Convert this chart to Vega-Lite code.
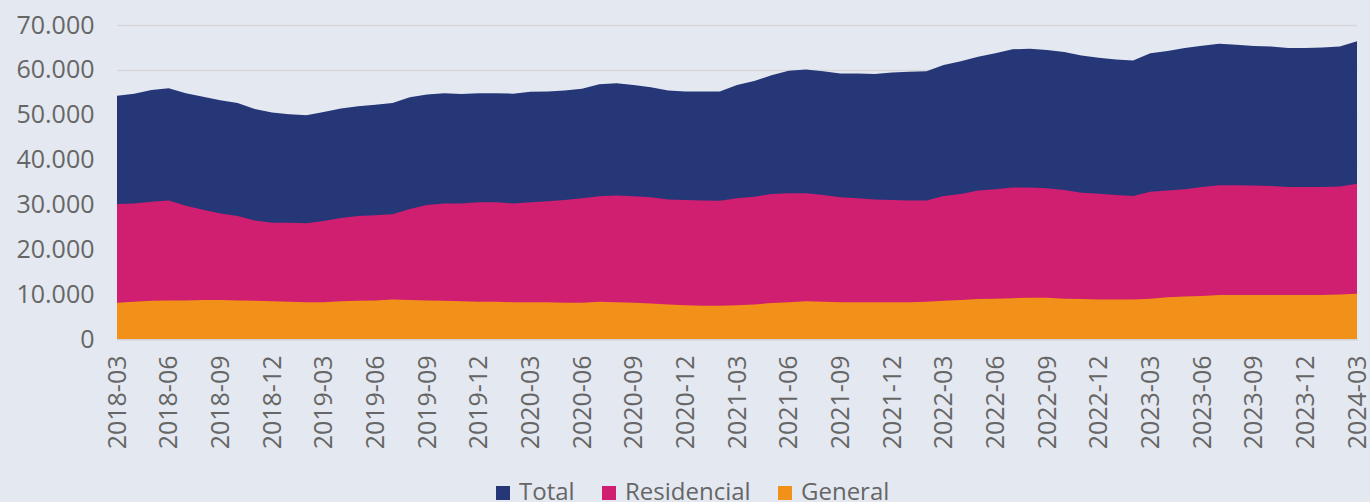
{
  "$schema": "https://vega.github.io/schema/vega-lite/v6.json",
  "width": 1240,
  "height": 314,
  "autosize": {"type": "none"},
  "padding": {"left": 117, "top": 25, "right": 13, "bottom": 163},
  "background": "#E4E8F0",
  "config": {"view": {"stroke": null}, "font": "Open Sans"},
  "data": {"values": [
    {"m":"2018-03","s":"Total","v":54200},{"m":"2018-04","s":"Total","v":54700},{"m":"2018-05","s":"Total","v":55500},{"m":"2018-06","s":"Total","v":55900},{"m":"2018-07","s":"Total","v":54800},{"m":"2018-08","s":"Total","v":54000},{"m":"2018-09","s":"Total","v":53200},{"m":"2018-10","s":"Total","v":52600},{"m":"2018-11","s":"Total","v":51300},{"m":"2018-12","s":"Total","v":50500},
    {"m":"2019-01","s":"Total","v":50100},{"m":"2019-02","s":"Total","v":49900},{"m":"2019-03","s":"Total","v":50600},{"m":"2019-04","s":"Total","v":51400},{"m":"2019-05","s":"Total","v":51900},{"m":"2019-06","s":"Total","v":52200},{"m":"2019-07","s":"Total","v":52600},{"m":"2019-08","s":"Total","v":53900},{"m":"2019-09","s":"Total","v":54500},{"m":"2019-10","s":"Total","v":54800},{"m":"2019-11","s":"Total","v":54600},{"m":"2019-12","s":"Total","v":54800},
    {"m":"2020-01","s":"Total","v":54800},{"m":"2020-02","s":"Total","v":54700},{"m":"2020-03","s":"Total","v":55100},{"m":"2020-04","s":"Total","v":55200},{"m":"2020-05","s":"Total","v":55400},{"m":"2020-06","s":"Total","v":55800},{"m":"2020-07","s":"Total","v":56800},{"m":"2020-08","s":"Total","v":57000},{"m":"2020-09","s":"Total","v":56600},{"m":"2020-10","s":"Total","v":56100},{"m":"2020-11","s":"Total","v":55400},{"m":"2020-12","s":"Total","v":55200},
    {"m":"2021-01","s":"Total","v":55200},{"m":"2021-02","s":"Total","v":55200},{"m":"2021-03","s":"Total","v":56600},{"m":"2021-04","s":"Total","v":57500},{"m":"2021-05","s":"Total","v":58800},{"m":"2021-06","s":"Total","v":59800},{"m":"2021-07","s":"Total","v":60100},{"m":"2021-08","s":"Total","v":59700},{"m":"2021-09","s":"Total","v":59200},{"m":"2021-10","s":"Total","v":59200},{"m":"2021-11","s":"Total","v":59100},{"m":"2021-12","s":"Total","v":59400},
    {"m":"2022-01","s":"Total","v":59600},{"m":"2022-02","s":"Total","v":59700},{"m":"2022-03","s":"Total","v":61100},{"m":"2022-04","s":"Total","v":61900},{"m":"2022-05","s":"Total","v":62900},{"m":"2022-06","s":"Total","v":63700},{"m":"2022-07","s":"Total","v":64600},{"m":"2022-08","s":"Total","v":64700},{"m":"2022-09","s":"Total","v":64400},{"m":"2022-10","s":"Total","v":64000},{"m":"2022-11","s":"Total","v":63200},{"m":"2022-12","s":"Total","v":62700},
    {"m":"2023-01","s":"Total","v":62300},{"m":"2023-02","s":"Total","v":62100},{"m":"2023-03","s":"Total","v":63700},{"m":"2023-04","s":"Total","v":64200},{"m":"2023-05","s":"Total","v":64900},{"m":"2023-06","s":"Total","v":65400},{"m":"2023-07","s":"Total","v":65800},{"m":"2023-08","s":"Total","v":65600},{"m":"2023-09","s":"Total","v":65300},{"m":"2023-10","s":"Total","v":65200},{"m":"2023-11","s":"Total","v":64900},{"m":"2023-12","s":"Total","v":64900},
    {"m":"2024-01","s":"Total","v":65000},{"m":"2024-02","s":"Total","v":65200},{"m":"2024-03","s":"Total","v":66400},

    {"m":"2018-03","s":"Residencial","v":30100},{"m":"2018-04","s":"Residencial","v":30200},{"m":"2018-05","s":"Residencial","v":30600},{"m":"2018-06","s":"Residencial","v":30900},{"m":"2018-07","s":"Residencial","v":29700},{"m":"2018-08","s":"Residencial","v":28800},{"m":"2018-09","s":"Residencial","v":28000},{"m":"2018-10","s":"Residencial","v":27400},{"m":"2018-11","s":"Residencial","v":26400},{"m":"2018-12","s":"Residencial","v":25900},
    {"m":"2019-01","s":"Residencial","v":25900},{"m":"2019-02","s":"Residencial","v":25800},{"m":"2019-03","s":"Residencial","v":26300},{"m":"2019-04","s":"Residencial","v":27000},{"m":"2019-05","s":"Residencial","v":27400},{"m":"2019-06","s":"Residencial","v":27600},{"m":"2019-07","s":"Residencial","v":27800},{"m":"2019-08","s":"Residencial","v":29000},{"m":"2019-09","s":"Residencial","v":29900},{"m":"2019-10","s":"Residencial","v":30200},{"m":"2019-11","s":"Residencial","v":30200},{"m":"2019-12","s":"Residencial","v":30500},
    {"m":"2020-01","s":"Residencial","v":30500},{"m":"2020-02","s":"Residencial","v":30200},{"m":"2020-03","s":"Residencial","v":30500},{"m":"2020-04","s":"Residencial","v":30700},{"m":"2020-05","s":"Residencial","v":31000},{"m":"2020-06","s":"Residencial","v":31400},{"m":"2020-07","s":"Residencial","v":31800},{"m":"2020-08","s":"Residencial","v":32000},{"m":"2020-09","s":"Residencial","v":31800},{"m":"2020-10","s":"Residencial","v":31600},{"m":"2020-11","s":"Residencial","v":31100},{"m":"2020-12","s":"Residencial","v":31000},
    {"m":"2021-01","s":"Residencial","v":30900},{"m":"2021-02","s":"Residencial","v":30800},{"m":"2021-03","s":"Residencial","v":31400},{"m":"2021-04","s":"Residencial","v":31700},{"m":"2021-05","s":"Residencial","v":32300},{"m":"2021-06","s":"Residencial","v":32500},{"m":"2021-07","s":"Residencial","v":32500},{"m":"2021-08","s":"Residencial","v":32100},{"m":"2021-09","s":"Residencial","v":31600},{"m":"2021-10","s":"Residencial","v":31400},{"m":"2021-11","s":"Residencial","v":31100},{"m":"2021-12","s":"Residencial","v":31000},
    {"m":"2022-01","s":"Residencial","v":30900},{"m":"2022-02","s":"Residencial","v":30900},{"m":"2022-03","s":"Residencial","v":31900},{"m":"2022-04","s":"Residencial","v":32300},{"m":"2022-05","s":"Residencial","v":33100},{"m":"2022-06","s":"Residencial","v":33400},{"m":"2022-07","s":"Residencial","v":33800},{"m":"2022-08","s":"Residencial","v":33800},{"m":"2022-09","s":"Residencial","v":33600},{"m":"2022-10","s":"Residencial","v":33200},{"m":"2022-11","s":"Residencial","v":32600},{"m":"2022-12","s":"Residencial","v":32400},
    {"m":"2023-01","s":"Residencial","v":32100},{"m":"2023-02","s":"Residencial","v":31900},{"m":"2023-03","s":"Residencial","v":32800},{"m":"2023-04","s":"Residencial","v":33100},{"m":"2023-05","s":"Residencial","v":33400},{"m":"2023-06","s":"Residencial","v":33900},{"m":"2023-07","s":"Residencial","v":34300},{"m":"2023-08","s":"Residencial","v":34300},{"m":"2023-09","s":"Residencial","v":34200},{"m":"2023-10","s":"Residencial","v":34100},{"m":"2023-11","s":"Residencial","v":33900},{"m":"2023-12","s":"Residencial","v":33900},
    {"m":"2024-01","s":"Residencial","v":33900},{"m":"2024-02","s":"Residencial","v":34000},{"m":"2024-03","s":"Residencial","v":34600},

    {"m":"2018-03","s":"General","v":8100},{"m":"2018-04","s":"General","v":8300},{"m":"2018-05","s":"General","v":8500},{"m":"2018-06","s":"General","v":8600},{"m":"2018-07","s":"General","v":8600},{"m":"2018-08","s":"General","v":8700},{"m":"2018-09","s":"General","v":8700},{"m":"2018-10","s":"General","v":8600},{"m":"2018-11","s":"General","v":8500},{"m":"2018-12","s":"General","v":8400},
    {"m":"2019-01","s":"General","v":8300},{"m":"2019-02","s":"General","v":8200},{"m":"2019-03","s":"General","v":8200},{"m":"2019-04","s":"General","v":8400},{"m":"2019-05","s":"General","v":8500},{"m":"2019-06","s":"General","v":8600},{"m":"2019-07","s":"General","v":8800},{"m":"2019-08","s":"General","v":8700},{"m":"2019-09","s":"General","v":8600},{"m":"2019-10","s":"General","v":8500},{"m":"2019-11","s":"General","v":8400},{"m":"2019-12","s":"General","v":8300},
    {"m":"2020-01","s":"General","v":8300},{"m":"2020-02","s":"General","v":8200},{"m":"2020-03","s":"General","v":8200},{"m":"2020-04","s":"General","v":8200},{"m":"2020-05","s":"General","v":8100},{"m":"2020-06","s":"General","v":8100},{"m":"2020-07","s":"General","v":8300},{"m":"2020-08","s":"General","v":8200},{"m":"2020-09","s":"General","v":8100},{"m":"2020-10","s":"General","v":7900},{"m":"2020-11","s":"General","v":7700},{"m":"2020-12","s":"General","v":7500},
    {"m":"2021-01","s":"General","v":7400},{"m":"2021-02","s":"General","v":7400},{"m":"2021-03","s":"General","v":7500},{"m":"2021-04","s":"General","v":7700},{"m":"2021-05","s":"General","v":8000},{"m":"2021-06","s":"General","v":8200},{"m":"2021-07","s":"General","v":8400},{"m":"2021-08","s":"General","v":8300},{"m":"2021-09","s":"General","v":8200},{"m":"2021-10","s":"General","v":8200},{"m":"2021-11","s":"General","v":8200},{"m":"2021-12","s":"General","v":8200},
    {"m":"2022-01","s":"General","v":8200},{"m":"2022-02","s":"General","v":8300},{"m":"2022-03","s":"General","v":8500},{"m":"2022-04","s":"General","v":8700},{"m":"2022-05","s":"General","v":8900},{"m":"2022-06","s":"General","v":9000},{"m":"2022-07","s":"General","v":9100},{"m":"2022-08","s":"General","v":9200},{"m":"2022-09","s":"General","v":9200},{"m":"2022-10","s":"General","v":9000},{"m":"2022-11","s":"General","v":8900},{"m":"2022-12","s":"General","v":8800},
    {"m":"2023-01","s":"General","v":8800},{"m":"2023-02","s":"General","v":8800},{"m":"2023-03","s":"General","v":9000},{"m":"2023-04","s":"General","v":9300},{"m":"2023-05","s":"General","v":9500},{"m":"2023-06","s":"General","v":9600},{"m":"2023-07","s":"General","v":9800},{"m":"2023-08","s":"General","v":9800},{"m":"2023-09","s":"General","v":9800},{"m":"2023-10","s":"General","v":9800},{"m":"2023-11","s":"General","v":9800},{"m":"2023-12","s":"General","v":9800},
    {"m":"2024-01","s":"General","v":9800},{"m":"2024-02","s":"General","v":9900},{"m":"2024-03","s":"General","v":10100}
  ]},
  "encoding": {
    "x": {
      "field": "m", "type": "ordinal", "sort": "ascending",
      "scale": {"type": "point", "padding": 0},
      "axis": {
        "title": null,
        "values": ["2018-03","2018-06","2018-09","2018-12","2019-03","2019-06","2019-09","2019-12","2020-03","2020-06","2020-09","2020-12","2021-03","2021-06","2021-09","2021-12","2022-03","2022-06","2022-09","2022-12","2023-03","2023-06","2023-09","2023-12","2024-03"],
        "labelAngle": 270,
        "labelAlign": "right",
        "labelBaseline": "middle",
        "labelFontSize": 25,
        "labelColor": "#666666",
        "labelPadding": 16,
        "ticks": false,
        "tickSize": 0,
        "grid": false,
        "domain": true,
        "domainColor": "#D0D2D8",
        "domainWidth": 2,
        "labelOverlap": false
      }
    },
    "y": {
      "field": "v", "type": "quantitative", "stack": null,
      "scale": {"domain": [0, 70000], "nice": false},
      "axis": {
        "title": null,
        "values": [0, 10000, 20000, 30000, 40000, 50000, 60000, 70000],
        "labelExpr": "replace(format(datum.value, ','), ',', '.')",
        "labelFontSize": 25,
        "labelColor": "#666666",
        "labelPadding": 23,
        "ticks": false,
        "tickSize": 0,
        "domain": false,
        "grid": true,
        "gridColor": "#D5D7DC",
        "gridWidth": 1.5
      }
    },
    "color": {
      "field": "s", "type": "nominal",
      "scale": {"domain": ["Total", "Residencial", "General"], "range": ["#263778", "#D01F70", "#F1911A"]},
      "legend": {
        "title": null,
        "orient": "none",
        "legendX": 374,
        "legendY": 456,
        "direction": "horizontal",
        "symbolType": "square",
        "symbolSize": 196,
        "symbolStrokeWidth": 0,
        "labelFontSize": 24,
        "labelColor": "#666666",
        "labelOffset": 4,
        "columnPadding": 22
      }
    }
  },
  "layer": [
    {"transform": [{"filter": "datum.s === 'Total'"}], "mark": {"type": "area", "opacity": 1}},
    {"transform": [{"filter": "datum.s === 'Residencial'"}], "mark": {"type": "area", "opacity": 1}},
    {"transform": [{"filter": "datum.s === 'General'"}], "mark": {"type": "area", "opacity": 1}}
  ]
}
